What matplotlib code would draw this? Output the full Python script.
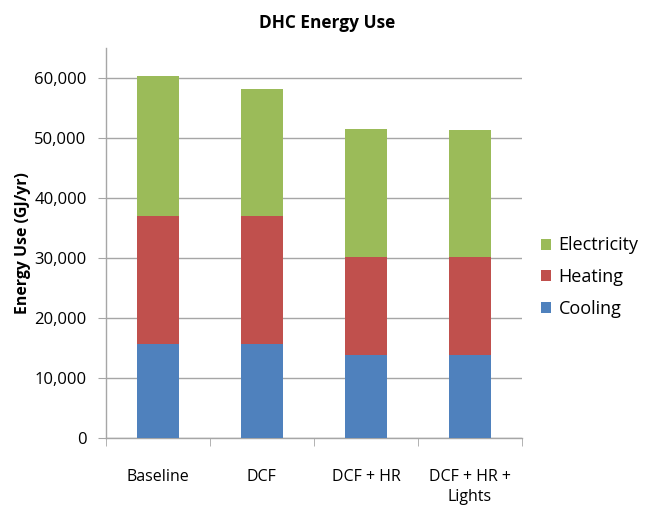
import matplotlib
matplotlib.use("Agg")
import matplotlib.pyplot as plt
import numpy as np
from matplotlib.ticker import FuncFormatter, FixedLocator

categories = ["Baseline", "DCF", "DCF + HR", "DCF + HR +\nLights"]
cooling = [15700, 15700, 13900, 13900]
heating = [21350, 21350, 16200, 16200]
electricity = [23280, 21170, 21340, 21180]
series_names = ["Cooling", "Heating", "Electricity"]
yticks = [0, 10000, 20000, 30000, 40000, 50000, 60000]

colors = {"Cooling": "#4F81BD", "Heating": "#C0504D", "Electricity": "#9BBB59"}

plt.rcParams['font.family'] = ['Open Sans', 'DejaVu Sans']

fig = plt.figure(figsize=(6.54, 5.05), dpi=100)
ax = fig.add_axes([0.162, 0.1327, 0.636, 0.7723])

x = np.arange(len(categories))
w = 0.4
c = np.array(cooling)
h = np.array(heating)
e = np.array(electricity)
ax.bar(x, c, w, color=colors["Cooling"], label="Cooling", zorder=3)
ax.bar(x, h, w, bottom=c, color=colors["Heating"], label="Heating", zorder=3)
ax.bar(x, e, w, bottom=c + h, color=colors["Electricity"], label="Electricity", zorder=3)

ax.set_xlim(-0.5, len(categories) - 0.5)
ax.set_ylim(0, 65000)
ax.set_yticks(yticks)
ax.yaxis.set_major_formatter(FuncFormatter(lambda v, p: f"{int(v):,}"))
ax.yaxis.grid(True, color="#A6A6A6", linewidth=1.0, zorder=0)
ax.set_axisbelow(True)

ax.set_xticks(x)
ax.set_xticklabels(categories, fontsize=11.5, linespacing=1.35)
ax.xaxis.set_minor_locator(FixedLocator(np.arange(-0.5, len(categories), 1.0)))
ax.tick_params(axis='x', which='major', length=0, pad=22)
ax.tick_params(axis='x', which='minor', length=6, color="#A6A6A6", direction='out')
ax.tick_params(axis='y', length=6, color="#A6A6A6", labelsize=12, pad=8)

for s in ["top", "right"]:
    ax.spines[s].set_visible(False)
for s in ["left", "bottom"]:
    ax.spines[s].set_color("#A6A6A6")
    ax.spines[s].set_linewidth(1.0)

ax.set_ylabel("Energy Use (GJ/yr)", fontsize=11.4, fontweight="bold", labelpad=2)
fig.suptitle("DHC Energy Use", fontsize=12.4, fontweight="bold", x=0.5, y=0.972)

handles, labels = ax.get_legend_handles_labels()
leg = fig.legend(handles[::-1], labels[::-1], loc="center left",
                 bbox_to_anchor=(0.803, 0.4515), frameon=False, fontsize=13,
                 handlelength=0.55, handleheight=0.55, handletextpad=0.4,
                 labelspacing=0.75)

fig.savefig("out.png", dpi=100)
